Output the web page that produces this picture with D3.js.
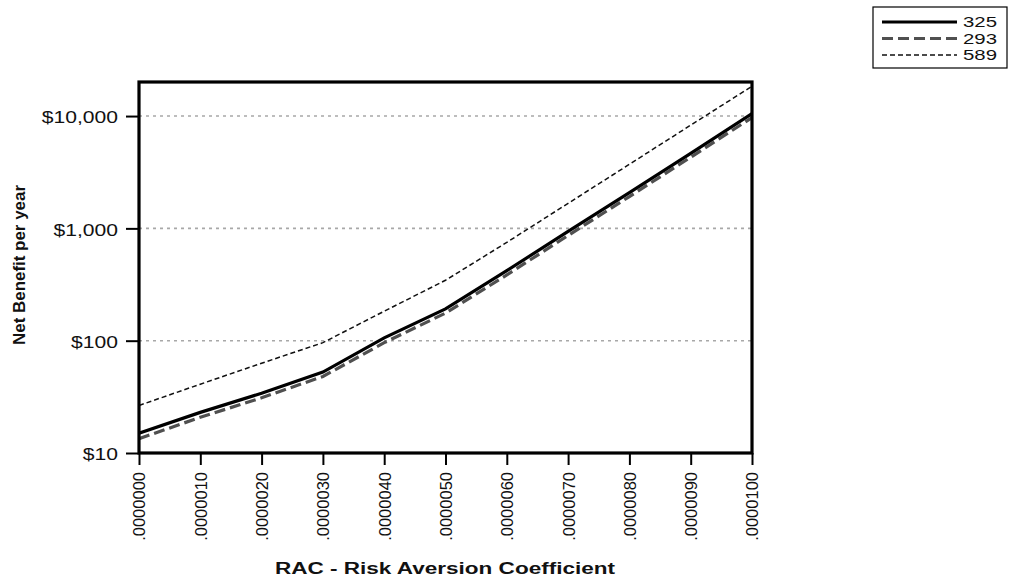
<!DOCTYPE html>
<html><head><meta charset="utf-8">
<script src="https://cdn.jsdelivr.net/npm/d3@7"></script>
<style>body{margin:0;background:#fff}svg{display:block}</style>
</head><body>
<script>
const rac = [0,0.000001,0.000002,0.000003,0.000004,0.000005,0.000006,0.000007,0.000008,0.000009,0.00001];
const xTickLabels = [".0000000",".0000010",".0000020",".0000030",".0000040",".0000050",".0000060",".0000070",".0000080",".0000090",".0000100"];
const s325 = [15, 23, 34, 52.5, 106, 192, 420, 940, 2080, 4650, 10500];
const s293 = [13.4, 20.8, 31, 48, 96, 176, 385, 865, 1920, 4300, 9700];
const s589 = [26.5, 41, 63, 96, 183, 345, 750, 1670, 3720, 8300, 18400];
const yTicks = [10, 100, 1000, 10000];
const yTickLabels = ["$10","$100","$1,000","$10,000"];
const seriesNames = ["325","293","589"];

const W=1009,H=579;
const m={l:139,t:82,r:752,b:453};
const svg=d3.select("body").append("svg").attr("width",W).attr("height",H);
const x=d3.scaleLinear().domain([0,0.00001]).range([m.l,m.r]);
const y=d3.scaleLog().domain([10,20100]).range([m.b,m.t]);
const font="Liberation Sans, Arial, Helvetica, sans-serif";

function stretch(sel,f){ sel.each(function(){ const L=this.getComputedTextLength(); d3.select(this).attr("textLength",L*f).attr("lengthAdjust","spacingAndGlyphs"); }); }

// grid
svg.append("g").selectAll("line").data(yTicks.slice(1)).join("line")
  .attr("x1",m.l).attr("x2",m.r).attr("y1",d=>y(d)).attr("y2",d=>y(d))
  .attr("stroke","#a8a8a8").attr("stroke-width",1.6).attr("stroke-dasharray","3,4");

// y axis
const yAxis=d3.axisLeft(y).tickValues(yTicks).tickFormat((d,i)=>yTickLabels[i]).tickSize(13).tickPadding(8);
const gy=svg.append("g").attr("transform",`translate(${m.l},0)`).call(yAxis);
gy.select(".domain").remove();
gy.selectAll(".tick line").attr("stroke","#000").attr("stroke-width",2);
gy.selectAll(".tick text").attr("font-family",font).attr("font-size",17).attr("fill","#111").attr("dy","0.4em");
stretch(gy.selectAll(".tick text"),1.24);

// x axis
const xAxis=d3.axisBottom(x).tickValues(rac).tickFormat((d,i)=>xTickLabels[i]).tickSize(12).tickPadding(6);
const gx=svg.append("g").attr("transform",`translate(0,${m.b})`).call(xAxis);
gx.select(".domain").remove();
gx.selectAll(".tick line").attr("stroke","#000").attr("stroke-width",2);
gx.selectAll(".tick text").attr("font-family",font).attr("font-size",16.5).attr("fill","#111")
  .attr("text-anchor","end").attr("dy","0.36em").attr("transform","translate(0,19) rotate(-90)").attr("y",0).attr("x",0);

// lines
const line=d3.line().x((d,i)=>x(rac[i])).y(d=>y(d));
const styles=[
  {data:s325,stroke:"#000",w:3.2,dash:null},
  {data:s293,stroke:"#505050",w:3.2,dash:"11,5"},
  {data:s589,stroke:"#111",w:1.5,dash:"5,3"}
];
svg.append("clipPath").attr("id","c").append("rect").attr("x",m.l).attr("y",m.t).attr("width",m.r-m.l).attr("height",m.b-m.t);
styles.slice().reverse().forEach(s=>{
  svg.append("path").attr("d",line(s.data)).attr("fill","none").attr("stroke",s.stroke)
    .attr("stroke-width",s.w).attr("stroke-dasharray",s.dash).attr("clip-path","url(#c)");
});

// frame
svg.append("rect").attr("x",m.l).attr("y",m.t).attr("width",m.r-m.l).attr("height",m.b-m.t)
  .attr("fill","none").attr("stroke","#000").attr("stroke-width",3.2);

// titles
svg.append("text").attr("transform",`translate(25,${265}) rotate(-90)`).attr("text-anchor","middle")
  .attr("font-family","Liberation Sans Narrow, Arial Narrow, "+font).attr("font-size",16).attr("font-weight","bold").attr("fill","#111")
  .attr("textLength",160).attr("lengthAdjust","spacingAndGlyphs").text("Net Benefit per year");
svg.append("text").attr("x",445).attr("y",574).attr("text-anchor","middle")
  .attr("font-family",font).attr("font-size",16).attr("font-weight","bold").attr("fill","#111")
  .attr("textLength",340).attr("lengthAdjust","spacingAndGlyphs")
  .text("RAC - Risk Aversion Coefficient");

// legend
const lg=svg.append("g");
lg.append("rect").attr("x",873).attr("y",7).attr("width",134).attr("height",61).attr("fill","#fff").attr("stroke","#000").attr("stroke-width",1.2);
styles.forEach((s,i)=>{
  const yy=22+i*16.5;
  lg.append("line").attr("x1",882).attr("x2",957).attr("y1",yy).attr("y2",yy)
    .attr("stroke",s.stroke).attr("stroke-width",s.w).attr("stroke-dasharray",s.dash);
  lg.append("text").attr("x",963).attr("y",yy).attr("dy","0.36em").attr("font-family",font).attr("font-size",14).attr("fill","#111")
    .attr("textLength",34).attr("lengthAdjust","spacingAndGlyphs").text(seriesNames[i]);
});
</script>
</body></html>
